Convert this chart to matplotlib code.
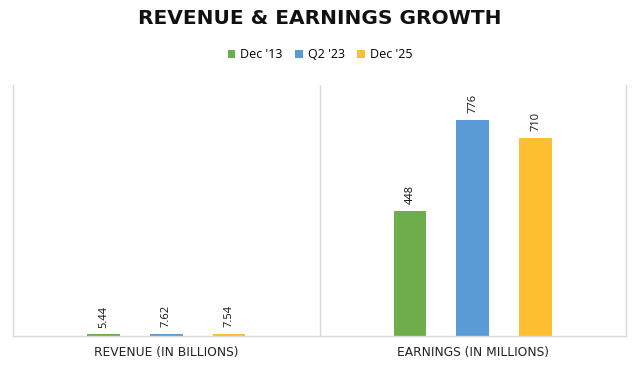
import matplotlib
matplotlib.use("Agg")
import matplotlib.pyplot as plt
import numpy as np

categories = ["REVENUE (IN BILLIONS)", "EARNINGS (IN MILLIONS)"]
series_names = ["Dec '13", "Q2 '23", "Dec '25"]
dec13 = [5.44, 448]
q223 = [7.62, 776]
dec25 = [7.54, 710]
label_text = [["5.44", "448"], ["7.62", "776"], ["7.54", "710"]]
colors = ["#6FAC4A", "#5B9BD5", "#FDBF2F"]

plt.rcParams['font.family'] = ['Open Sans', 'DejaVu Sans']

fig = plt.figure(figsize=(6.4, 3.66), dpi=100)
ax = fig.add_axes([13/640, 1 - 336/366, (626-13)/640, (336-85)/366])

x = np.arange(len(categories))
offsets = [-0.205, 0.0, 0.205]
width = 0.107
for i, (vals, c, name) in enumerate(zip([dec13, q223, dec25], colors, series_names)):
    bars = ax.bar(x + offsets[i], vals, width=width, color=c, label=name)
    for j, b in enumerate(bars):
        ax.annotate(label_text[i][j], (b.get_x() + b.get_width()/2, b.get_height()),
                    xytext=(0, 5), textcoords="offset points", rotation=90,
                    ha="center", va="bottom", fontsize=8, color="#111111")

ax.set_xlim(-0.5, 1.5)
ax.set_ylim(0, 900)
ax.set_yticks([])
ax.set_xticks([])
ax.spines["top"].set_visible(False)
for s in ["left", "right", "bottom"]:
    ax.spines[s].set_color("#D9D9D9")
    ax.spines[s].set_linewidth(1.0)
ax.axvline(0.5, color="#D9D9D9", lw=1.0)

for xi, cat in zip(x, categories):
    ax.text(xi, -0.04, cat, transform=ax.get_xaxis_transform(), ha="center", va="top",
            fontsize=8.8, color="#222222", family=["DejaVu Sans"])

fig.text(0.5, 1 - 18/366, "REVENUE & EARNINGS GROWTH", ha="center", va="center",
         fontsize=14.5, fontweight="bold", color="#111111", family=["DejaVu Sans"])

leg = fig.legend(loc="center", bbox_to_anchor=(0.5, 1 - 55/366), ncol=3, frameon=False,
                 fontsize=9, handlelength=0.6, handleheight=0.6, handletextpad=0.4,
                 columnspacing=1.0)

fig.savefig("out.png", dpi=100, facecolor="white")
